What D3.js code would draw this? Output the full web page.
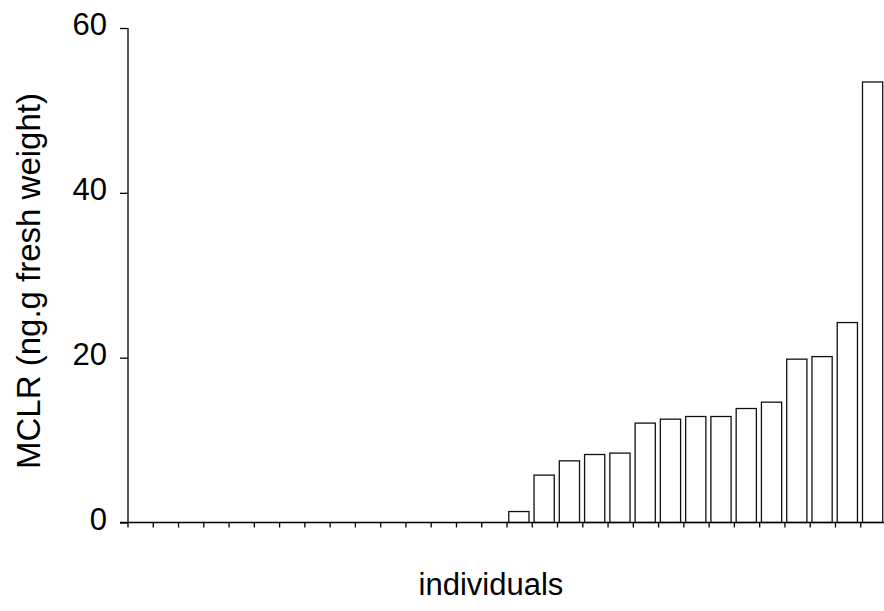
<!DOCTYPE html>
<html><head><meta charset="utf-8">
<script src="https://cdn.jsdelivr.net/npm/d3@7"></script>
<style>body{margin:0;background:#fff}svg{display:block}</style>
</head><body>
<svg id="c" width="884" height="611"></svg>
<script>
const categories = d3.range(1, 31).map(String);
const values = [0,0,0,0,0,0,0,0,0,0,0,0,0,0,0,
  1.33,5.75,7.48,8.25,8.42,12.06,12.54,12.86,12.86,13.83,14.6,19.82,20.13,24.26,53.45];
const yTicks = [0, 20, 40, 60];
const yTitle = "MCLR (ng.g fresh weight)";
const xTitle = "individuals";

const svg = d3.select("#c");
const font = "'Liberation Sans', Arial, sans-serif";
const x = d3.scaleBand().domain(categories).range([128, 886])
  .paddingInner(0.2).paddingOuter(0.1).align(0.35);
const y = d3.scaleLinear().domain([0, 60]).range([522.5, 28]);

// bars
svg.append("g").selectAll("rect").data(values).join("rect")
  .attr("x", (d, i) => x(categories[i]))
  .attr("width", x.bandwidth())
  .attr("y", d => y(d))
  .attr("height", d => y(0) - y(d))
  .attr("fill", "#fff").attr("stroke", "#111").attr("stroke-width", 1.3)
  .style("display", d => d > 0 ? null : "none");

// y axis
const ya = svg.append("g").attr("transform", "translate(128,0)")
  .call(d3.axisLeft(y).tickValues(yTicks).tickSize(8));
ya.selectAll("text")
  .attr("x", -21).attr("dy", null).attr("y", 6.5)
  .attr("text-anchor", "end")
  .attr("font-family", font).attr("font-size", 31).attr("fill", "#000");
ya.selectAll("line,path").attr("stroke", "#000").attr("stroke-width", 1.3);
ya.select("path.domain").attr("d", `M0,${y(60)}V${y(0)}`);

// x axis with ticks at category boundaries
const bounds = d3.range(categories.length + 1).map(i => 128 + i * (886 - 128) / categories.length);
const xa = svg.append("g");
xa.append("line").attr("x1", 120).attr("x2", 886).attr("y1", y(0)).attr("y2", y(0))
  .attr("stroke", "#000").attr("stroke-width", 1.3);
xa.selectAll("line.t").data(bounds).join("line").attr("class", "t")
  .attr("x1", d => d).attr("x2", d => d).attr("y1", y(0)).attr("y2", y(0) + 5)
  .attr("stroke", "#000").attr("stroke-width", 1.3);

// titles
svg.append("text").attr("x", 491).attr("y", 595).attr("text-anchor", "middle")
  .attr("font-family", font).attr("font-size", 31).text(xTitle);
svg.append("text").attr("transform", "translate(40,281) rotate(-90)").attr("text-anchor", "middle")
  .attr("font-family", font).attr("font-size", 33).text(yTitle);
</script>
</body></html>
